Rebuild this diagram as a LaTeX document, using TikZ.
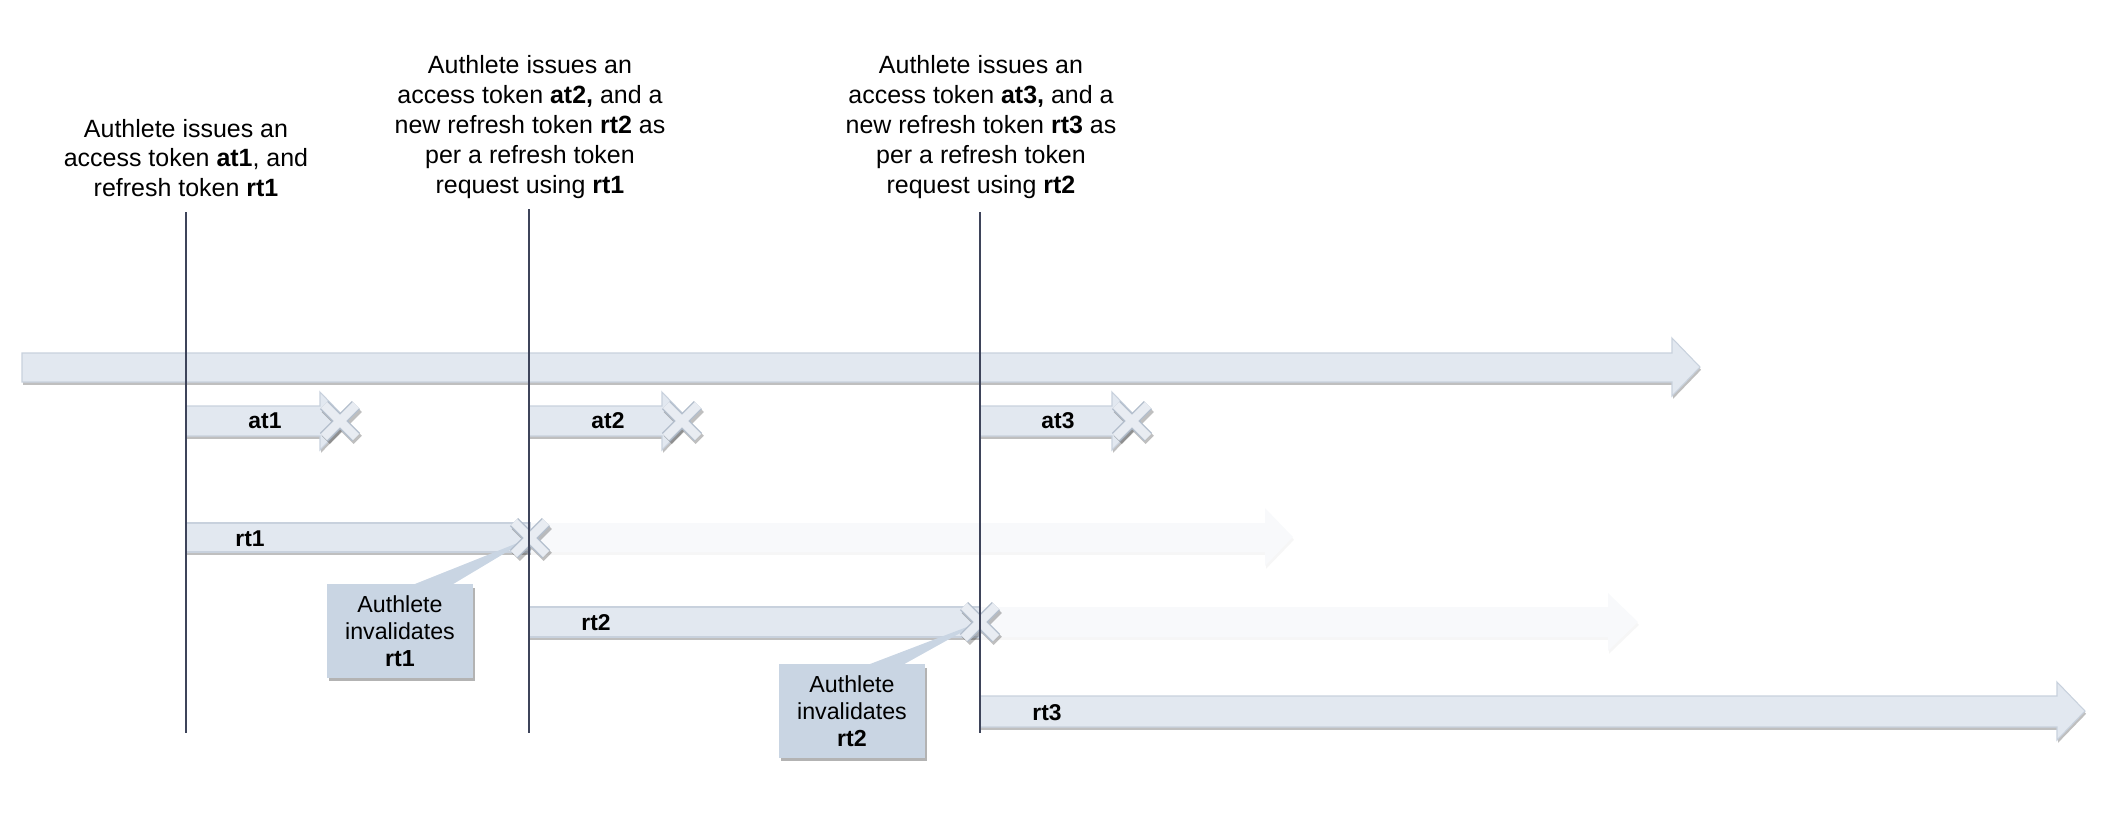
\documentclass[tikz,border=0pt]{standalone}
\usepackage{fontspec}
\setmainfont{Liberation Sans}
\usetikzlibrary{shadows,calc}

\definecolor{barfill}{RGB}{226,232,240}
\definecolor{barline}{RGB}{200,209,221}
\definecolor{faintfill}{RGB}{248,249,251}
\definecolor{calloutfill}{RGB}{201,213,227}
\definecolor{crossfill}{RGB}{232,236,242}
\definecolor{crossedge}{RGB}{180,191,205}
\definecolor{vline}{RGB}{62,68,90}

\begin{document}
\begin{tikzpicture}[x=0.01cm, y=-0.01cm,
  bar/.style={fill=barfill, draw=barline, line width=0.3pt,
    drop shadow={opacity=0.5, shadow xshift=0.3pt, shadow yshift=-0.8pt}},
  faint/.style={fill=faintfill,
    drop shadow={opacity=0.07, shadow xshift=0.3pt, shadow yshift=-0.8pt}},
  cross/.style={line width=2.5pt, draw=crossfill,
    preaction={draw=black, opacity=0.25, line width=3.3pt,
      transform canvas={xshift=0.5pt, yshift=-0.8pt}},
    preaction={draw=crossedge, line width=3.3pt}},
  vtick/.style={draw=vline, line width=0.45pt},
  issue/.style={align=center, inner sep=0pt,
    font=\fontsize{7.1}{8.5}\selectfont},
  tok/.style={inner sep=0pt, font=\fontsize{6.5}{7.7}\selectfont\bfseries},
  callout/.style={fill=calloutfill, align=center, inner sep=0pt,
    minimum width=1.46cm, minimum height=0.93cm,
    font=\fontsize{6.6}{7.7}\selectfont,
    drop shadow={opacity=0.6, shadow xshift=0.5pt, shadow yshift=-0.9pt}}]

  %% Bounding box of the whole picture.
  \useasboundingbox (0,0) rectangle (2102,829);


  %% Issue labels above the time line.
  \node[issue] (iss1) at (186,158)
  {Authlete issues an\\access token \textbf{at1}, and\\refresh token \textbf{rt1}};
  \node[issue] (iss2) at (530,127)
  {Authlete issues an\\access token \textbf{at2,} and a\\new refresh token \textbf{rt2} as\\per a refresh token\\request using \textbf{rt1}};
  \node[issue] (iss3) at (981,127)
  {Authlete issues an\\access token \textbf{at3,} and a\\new refresh token \textbf{rt3} as\\per a refresh token\\request using \textbf{rt2}};


  %% Event points.
  \coordinate (ev1top) at (186,212);  \coordinate (ev1bot) at (186,733);
  \coordinate (ev2top) at (529,209);  \coordinate (ev2bot) at (529,733);
  \coordinate (ev3top) at (980,212);  \coordinate (ev3bot) at (980,733);

  \coordinate (xat1) at (340,421);
  \coordinate (xat2) at (682,421);
  \coordinate (xat3) at (1132,421);
  \coordinate (xrt1) at (530,538);
  \coordinate (xrt2) at (980,622);


  %% Main time line:
  \path[bar] (22,353) -- (1672,353) -- (1672,338) -- (1700,367)
  -- (1672,396) -- (1672,382) -- (22,382) -- cycle;


  %% Access tokens:
  \path[bar] (186,406) -- (320,406) -- (320,392) -- (348,421)
  -- (320,450) -- (320,436) -- (186,436) -- cycle;
  \node[tok] (lat1) at (265,421) {at1};

  \path[bar] (529,406) -- (662,406) -- (662,392) -- (690,421)
  -- (662,450) -- (662,436) -- (529,436) -- cycle;
  \node[tok] (lat2) at (608,421) {at2};

  \path[bar] (980,406) -- (1112,406) -- (1112,392) -- (1140,421)
  -- (1112,450) -- (1112,436) -- (980,436) -- cycle;
  \node[tok] (lat3) at (1058,421) {at3};


  %% Refresh tokens (faint part first, then the live part):
  \path[faint] (520,523) -- (1265,523) -- (1265,508) -- (1293,537)
  -- (1265,566) -- (1265,552) -- (520,552) -- cycle;
  \path[bar] (186,523) -- (530,523) -- (530,552) -- (186,552) -- cycle;
  \node[tok] (lrt1) at (250,539) {rt1};

  \path[faint] (970,607) -- (1608,607) -- (1608,593) -- (1638,622)
  -- (1608,651) -- (1608,637) -- (970,637) -- cycle;
  \path[bar] (529,607) -- (980,607) -- (980,637) -- (529,637) -- cycle;
  \node[tok] (lrt2) at (596,623) {rt2};

  \path[bar] (980,696) -- (2057,696) -- (2057,682) -- (2085,711)
  -- (2057,740) -- (2057,727) -- (980,727) -- cycle;
  \node[tok] (lrt3) at (1047,713) {rt3};


  %% Callouts:
  \node[callout] (inv1) at (400,631) {Authlete\\invalidates\\\textbf{rt1}};
  \fill[calloutfill] ($(inv1.north)+(13,1)$) -- (xrt1) -- ($(inv1.north)+(52,1)$) -- cycle;

  \node[callout] (inv2) at (852,711) {Authlete\\invalidates\\\textbf{rt2}};
  \fill[calloutfill] ($(inv2.north)+(16,1)$) -- (xrt2) -- ($(inv2.north)+(51,1)$) -- cycle;


  %% Crosses:
  \draw[cross] (xat1) +(-16,-16) -- +(16,16) +(-16,16) -- +(16,-16);
  \draw[cross] (xat2) +(-16,-16) -- +(16,16) +(-16,16) -- +(16,-16);
  \draw[cross] (xat3) +(-16,-16) -- +(16,16) +(-16,16) -- +(16,-16);
  \draw[cross] (xrt1) +(-16,-16) -- +(16,16) +(-16,16) -- +(16,-16);
  \draw[cross] (xrt2) +(-16,-16) -- +(16,16) +(-16,16) -- +(16,-16);


  %% Event lines:
  \draw[vtick] (ev1top) -- (ev1bot);
  \draw[vtick] (ev2top) -- (ev2bot);
  \draw[vtick] (ev3top) -- (ev3bot);

\end{tikzpicture}
\end{document}
